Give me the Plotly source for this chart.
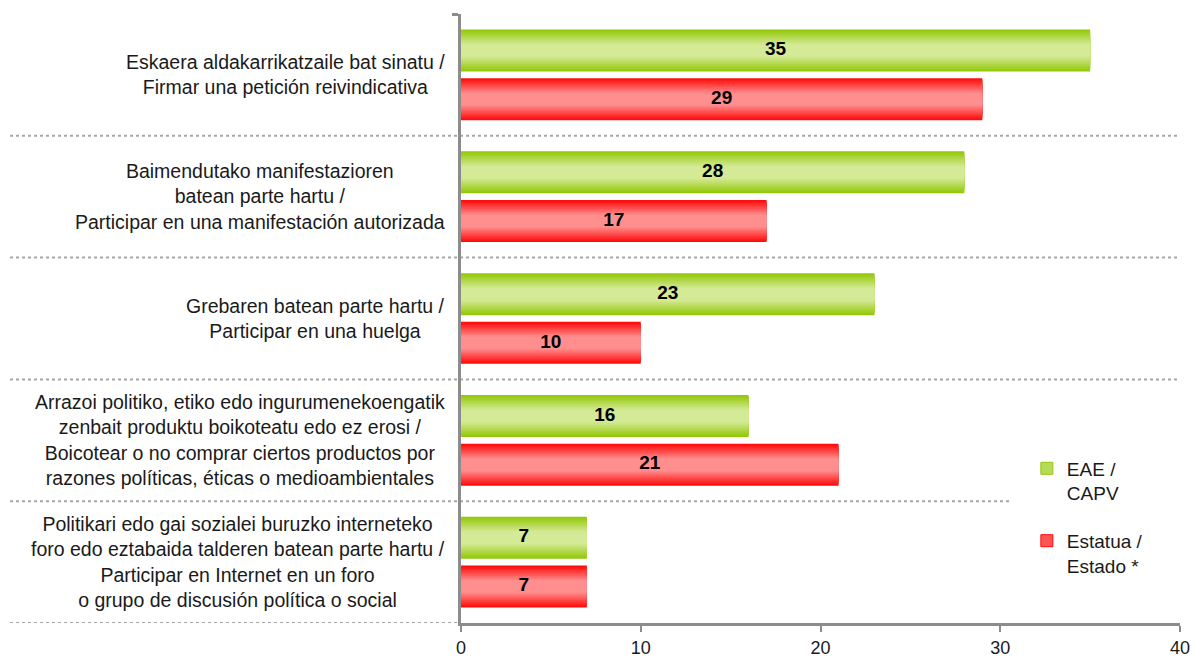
import plotly.graph_objects as go

# Categories listed top to bottom
categories = [
    "Eskaera aldakarrikatzaile bat sinatu /<br>Firmar una petición reivindicativa",
    "Baimendutako manifestazioren<br>batean parte hartu /<br>Participar en una manifestación autorizada",
    "Grebaren batean parte hartu /<br>Participar en una huelga",
    "Arrazoi politiko, etiko edo ingurumenekoengatik<br>zenbait produktu boikoteatu edo ez erosi /<br>Boicotear o no comprar ciertos productos por<br>razones políticas, éticas o medioambientales",
    "Politikari edo gai sozialei buruzko interneteko<br>foro edo eztabaida talderen batean parte hartu /<br>Participar en Internet en un foro<br>o grupo de discusión política o social",
]
eae_values = [35, 28, 23, 16, 7]
estado_values = [29, 17, 10, 21, 7]
series_names = ["EAE /<br>CAPV", "Estatua /<br>Estado *"]
x_ticks = [0, 10, 20, 30, 40]

FONT = "Liberation Sans, Arial, sans-serif"
n = len(categories)
ypos = [n - 1 - i for i in range(n)]
BAR_W = 0.345
OFF = 0.2


def mix(c1, c2, t):
    return "rgb(%d,%d,%d)" % tuple(round(a + (b - a) * t) for a, b in zip(c1, c2))


styles = [
    ((148, 200, 10), (212, 234, 150)),   # green: edge, centre
    ((255, 12, 12), (255, 142, 142)),    # red: edge, centre
]

fig = go.Figure()
LAYERS = 14
for s, (vals, offset) in enumerate([(eae_values, OFF), (estado_values, -OFF)]):
    edge, centre = styles[s]
    ys = [y + offset for y in ypos]
    # stacked overlays of shrinking height give a vertical edge-to-centre gradient
    for k in range(LAYERS):
        frac = 1 - k / LAYERS
        t = min(1.0, (k / (LAYERS - 1)) * 1.35)
        fig.add_trace(go.Bar(
            x=vals, y=ys, orientation="h", width=BAR_W * frac,
            marker=dict(color=mix(edge, centre, t), line=dict(width=0)),
            showlegend=False, hoverinfo="skip",
        ))
    # value labels
    fig.add_trace(go.Scatter(
        x=[v / 2 for v in vals], y=ys, mode="text",
        text=[str(v) for v in vals],
        textfont=dict(family=FONT, size=19, color="black", weight="bold"),
        showlegend=False, hoverinfo="skip",
    ))
    # legend entry
    fig.add_trace(go.Bar(
        x=[None], y=[None], orientation="h", name=series_names[s],
        marker=dict(color=mix(edge, centre, 0.55), line=dict(color=mix(edge, centre, 0.0), width=1)),
        legendgroup=str(s),
    ))

# category labels
for y, label in zip(ypos, categories):
    fig.add_annotation(
        x=0, xref="paper", xanchor="right", xshift=-14,
        y=y, yref="y", yanchor="middle",
        text=label, showarrow=False, align="center",
        font=dict(family=FONT, size=19.5, color="#1a1a1a"),
    )

# dotted group separators
x_left = (10 - 461) / 719
for b in [0.5, 1.5, 2.5, 3.5]:
    x_right = 1.0 if b != 0.5 else (1010 - 461) / 719
    fig.add_shape(type="line", xref="paper", yref="y", x0=x_left, x1=x_right, y0=b, y1=b,
                  line=dict(color="#a6a6a6", width=2, dash="dot"), layer="below")
fig.add_shape(type="line", xref="paper", yref="y", x0=x_left, x1=0, y0=-0.5, y1=-0.5,
              line=dict(color="#a6a6a6", width=2, dash="dot"), layer="below")

fig.update_layout(
    width=1195, height=657,
    margin=dict(l=461, r=15, t=14, b=34),
    paper_bgcolor="white", plot_bgcolor="white",
    barmode="overlay",
    font=dict(family=FONT, size=18, color="#1a1a1a"),
    xaxis=dict(range=[0, 40], tickvals=x_ticks, showgrid=False, zeroline=False,
               showline=True, linecolor="#8c8c8c", linewidth=3, automargin=False,
               ticks="outside", ticklen=6, tickwidth=2, tickcolor="#8c8c8c",
               tickfont=dict(family=FONT, size=18, color="#1a1a1a")),
    yaxis=dict(range=[-0.5, 4.5], tickvals=[4.5], showticklabels=False, showgrid=False,
               zeroline=False, showline=True, linecolor="#8c8c8c", linewidth=3, automargin=False,
               ticks="outside", ticklen=6, tickwidth=3, tickcolor="#8c8c8c"),
    legend=dict(x=0.787, y=0.285, xanchor="left", yanchor="top", valign="top",
                font=dict(family=FONT, size=19, color="#1a1a1a"),
                tracegroupgap=20, bgcolor="rgba(0,0,0,0)", itemwidth=30),
    showlegend=True,
)

fig.write_html("out.html")
